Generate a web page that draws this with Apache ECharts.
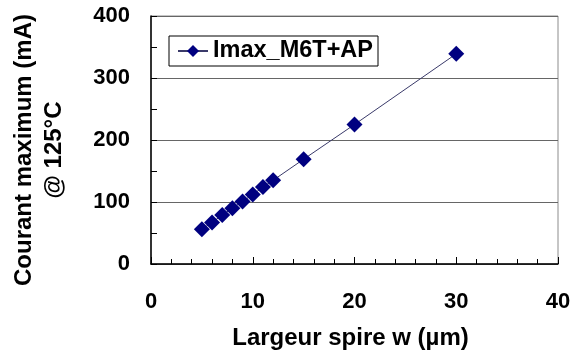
<!DOCTYPE html>
<html>
<head>
<meta charset="utf-8">
<script src="https://cdn.jsdelivr.net/npm/echarts@6/dist/echarts.min.js"></script>
<style>html,body{margin:0;padding:0;background:#fff;}#c{width:571px;height:351px;}</style>
</head>
<body>
<div id="c"></div>
<script>
const seriesName = 'Imax_M6T+AP';
const widths = [5, 6, 7, 8, 9, 10, 11, 12, 15, 20, 30];
const currents = [56, 67, 79, 90, 101, 112, 124, 135, 169, 225, 339];
const xTitle = 'Largeur spire w (µm)';
const yTitle = 'Courant maximum (mA)\n@ 125°C';

const font = 'Arial, "Liberation Sans", sans-serif';
const chart = echarts.init(document.getElementById('c'), null, {renderer: 'canvas'});
chart.setOption({
  animation: false,
  backgroundColor: '#fff',
  grid: {left: 151, right: 13, top: 16, bottom: 87, show: true, borderColor: '#8c8c8c', borderWidth: 1,
         containLabel: false, outerBoundsMode: 'none'},
  legend: {
    left: 169, top: 36,
    padding: [3, 5, 3, 8],
    borderColor: '#000', borderWidth: 1, borderRadius: 0,
    itemWidth: 30, itemHeight: 15, itemGap: 6,
    textStyle: {fontFamily: font, fontWeight: 'bold', fontSize: 23.5, color: '#000'},
    data: [seriesName]
  },
  xAxis: {
    type: 'value', min: 0, max: 40, interval: 10,
    name: xTitle, nameLocation: 'middle', nameGap: 62,
    nameTextStyle: {fontFamily: font, fontWeight: 'bold', fontSize: 24, color: '#000', padding: [0, 8, 0, 0]},
    axisLine: {lineStyle: {color: '#000', width: 1.5}},
    axisTick: {inside: true, length: 7, lineStyle: {color: '#000'}},
    minorTick: {show: true, splitNumber: 5, length: 5, lineStyle: {color: '#000'}},
    splitLine: {show: false},
    axisLabel: {margin: 27, fontFamily: font, fontWeight: 'bold', fontSize: 22, color: '#000'}
  },
  yAxis: {
    type: 'value', min: 0, max: 400, interval: 100,
    name: yTitle, nameLocation: 'middle', nameGap: 82, nameRotate: 90,
    nameTextStyle: {fontFamily: font, fontWeight: 'bold', fontSize: 24, color: '#000', lineHeight: 30, align: 'center', padding: [0, 20, 0, 0]},
    axisLine: {show: true, lineStyle: {color: '#000', width: 1.5}},
    axisTick: {inside: true, length: 6, lineStyle: {color: '#000'}},
    minorTick: {show: true, splitNumber: 2, length: 6, lineStyle: {color: '#000'}},
    splitLine: {show: true, lineStyle: {color: '#666', width: 1}},
    axisLabel: {margin: 21, fontFamily: font, fontWeight: 'bold', fontSize: 22, color: '#000'}
  },
  series: [{
    name: seriesName,
    type: 'line',
    data: widths.map((w, i) => [w, currents[i]]),
    symbol: 'diamond', symbolSize: 16,
    itemStyle: {color: '#000080'},
    lineStyle: {color: '#3a3a6a', width: 1}
  }]
});
</script>
</body>
</html>
